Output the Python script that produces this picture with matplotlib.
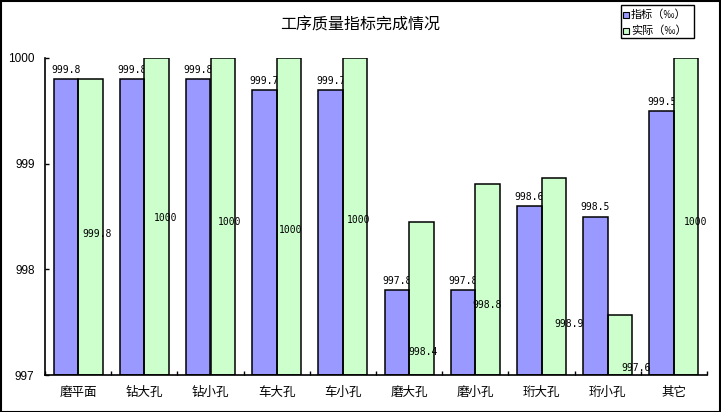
import matplotlib
matplotlib.use("Agg")
import matplotlib.pyplot as plt
from matplotlib.patches import Rectangle
import numpy as np

CJK = ["Noto Sans CJK SC", "DejaVu Sans"]

categories = ["磨平面", "钻大孔", "钻小孔", "车大孔", "车小孔",
              "磨大孔", "磨小孔", "珩大孔", "珩小孔", "其它"]
series_names = ["指标（‰）", "实际（‰）"]
target = [999.8, 999.8, 999.8, 999.7, 999.7, 997.8, 997.8, 998.6, 998.5, 999.5]
actual = [999.8, 1000, 1000, 1000, 1000, 998.45, 998.81, 998.86, 997.57, 1000]
actual_labels = ["999.8", "1000", "1000", "1000", "1000",
                 "998.4", "998.8", "998.9", "997.6", "1000"]
# hand-placed label spots of the "actual" series (data y, x shift in px)
actual_label_y = [998.33, 998.49, 998.45, 998.37, 998.47,
                  997.22, 997.66, 997.48, 997.07, 998.45]
actual_label_dx = [7, 9.5, 7, 2, 3, 2, 0, 15, 16.5, 9]
yticks = [997, 998, 999, 1000]

BLUE, GREEN = "#9999FF", "#CCFFCC"

fig = plt.figure(figsize=(7.21, 4.12), dpi=100)
ax = fig.add_axes([45 / 721, 1 - 375 / 412, 662 / 721, 317 / 412])

x = np.arange(len(categories))
w = 0.37
ax.bar(x - w / 2, np.array(target) - 997, w, bottom=997, color=BLUE, zorder=1)
for xi, v in zip(x, target):
    ax.annotate(f"{v:g}", (xi - w / 2, v), xytext=(0, 3), textcoords="offset points",
                ha="center", va="bottom", fontsize=7, family="DejaVu Sans Mono", zorder=1.5)
ax.bar(x + w / 2, np.array(actual) - 997, w, bottom=997, color=GREEN, zorder=2)
for xi, lab, ly, dx in zip(x, actual_labels, actual_label_y, actual_label_dx):
    ax.annotate(lab, (xi + w / 2, ly), xytext=(dx * 0.72, 0), textcoords="offset points",
                ha="center", va="center", fontsize=7, family="DejaVu Sans Mono", zorder=2.5)
# outlines on top
ax.bar(x - w / 2, np.array(target) - 997, w, bottom=997, facecolor="none",
       edgecolor="black", linewidth=1.1, zorder=3)
ax.bar(x + w / 2, np.array(actual) - 997, w, bottom=997, facecolor="none",
       edgecolor="black", linewidth=1.1, zorder=3)

ax.set_xlim(-0.5, len(categories) - 0.5)
ax.set_ylim(997, 1000)
ax.set_yticks(yticks)
ax.set_yticklabels([str(t) for t in yticks], family="Liberation Sans", fontsize=8.5)
ax.tick_params(axis="y", direction="in", length=3, pad=7.5, width=1)
ax.set_xticks(x)
ax.set_xticklabels(categories, family=CJK, fontsize=9)
ax.tick_params(axis="x", which="major", length=0, pad=8)
ax.set_xticks(np.arange(-0.5, len(categories)), minor=True)
ax.tick_params(axis="x", which="minor", direction="in", length=3, width=1)
for s in ("top", "right"):
    ax.spines[s].set_visible(False)
for s in ("left", "bottom"):
    ax.spines[s].set_linewidth(1.2)

fig.text(360 / 721, 1 - 25 / 412, "工序质量指标完成情况", ha="center", va="center",
         family=CJK, fontsize=11.5)

# legend box
fig.patches.append(Rectangle((621 / 721, 1 - 38 / 412), 73 / 721, 33 / 412,
                             transform=fig.transFigure, facecolor="white",
                             edgecolor="black", linewidth=1))
for i, (name, col) in enumerate(zip(series_names, [BLUE, GREEN])):
    yc = 15 + 16 * i
    fig.patches.append(Rectangle((623 / 721, 1 - (yc + 3) / 412), 6 / 721, 6 / 412,
                                 transform=fig.transFigure, facecolor=col,
                                 edgecolor="black", linewidth=0.8))
    fig.text(631 / 721, 1 - yc / 412, name, ha="left", va="center",
             family=CJK, fontsize=8)

# outer frame
fig.patches.append(Rectangle((0.5 / 721, 0.5 / 412), 719.5 / 721, 410.5 / 412,
                             transform=fig.transFigure, facecolor="none",
                             edgecolor="black", linewidth=1.5))

fig.savefig("out.png", dpi=100)
